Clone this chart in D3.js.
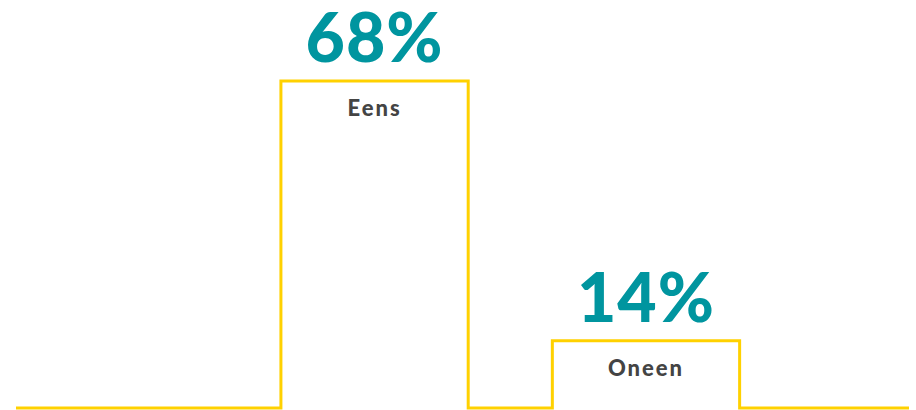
<!DOCTYPE html>
<html>
<head>
<meta charset="utf-8">
<script src="https://cdn.jsdelivr.net/npm/d3@7"></script>
<style>
  html, body { margin: 0; padding: 0; background: #fff; }
  svg { display: block; }
</style>
</head>
<body>
<svg id="chart" width="916" height="410"></svg>
<script>
const categories = ['Eens', 'Oneen'];
const values = [68, 14];
const valueLabels = ['68%', '14%'];

const svg = d3.select('#chart');

const lineColor = '#ffd100';
const valueColor = '#00959f';
const labelColor = '#444444';

const x = d3.scaleBand()
  .domain(categories)
  .range([16, 909])
  .paddingInner(0.31)
  .paddingOuter(0.8)
  .align(0.61);

const y = d3.scaleLinear()
  .domain([0, 68])
  .range([408, 81]);

// one step line running along the baseline and over each bar
const path = d3.path();
const [x0, x1] = x.range();
path.moveTo(x0, y(0));
categories.forEach((c, i) => {
  path.lineTo(x(c), y(0));
  path.lineTo(x(c), y(values[i]));
  path.lineTo(x(c) + x.bandwidth(), y(values[i]));
  path.lineTo(x(c) + x.bandwidth(), y(0));
});
path.lineTo(x1, y(0));

svg.append('path')
  .attr('d', path.toString())
  .attr('fill', 'none')
  .attr('stroke', lineColor)
  .attr('stroke-width', 3)
  .attr('stroke-linejoin', 'miter');

const bars = svg.append('g')
  .selectAll('g')
  .data(categories)
  .join('g')
  .attr('transform', (d) => `translate(${x(d) + x.bandwidth() / 2},0)`);

bars.append('text')
  .attr('y', (d, i) => y(values[i]) - 19)
  .attr('text-anchor', 'middle')
  .attr('font-family', 'Lato, sans-serif')
  .attr('font-weight', 900)
  .attr('font-size', 68)
  .attr('letter-spacing', 1)
  .attr('fill', valueColor)
  .text((d, i) => valueLabels[i]);

bars.append('text')
  .attr('y', (d, i) => y(values[i]) + 35)
  .attr('text-anchor', 'middle')
  .attr('font-family', 'Lato, sans-serif')
  .attr('font-weight', 900)
  .attr('font-size', 22)
  .attr('letter-spacing', 2)
  .attr('fill', labelColor)
  .text((d) => d);
</script>
</body>
</html>
